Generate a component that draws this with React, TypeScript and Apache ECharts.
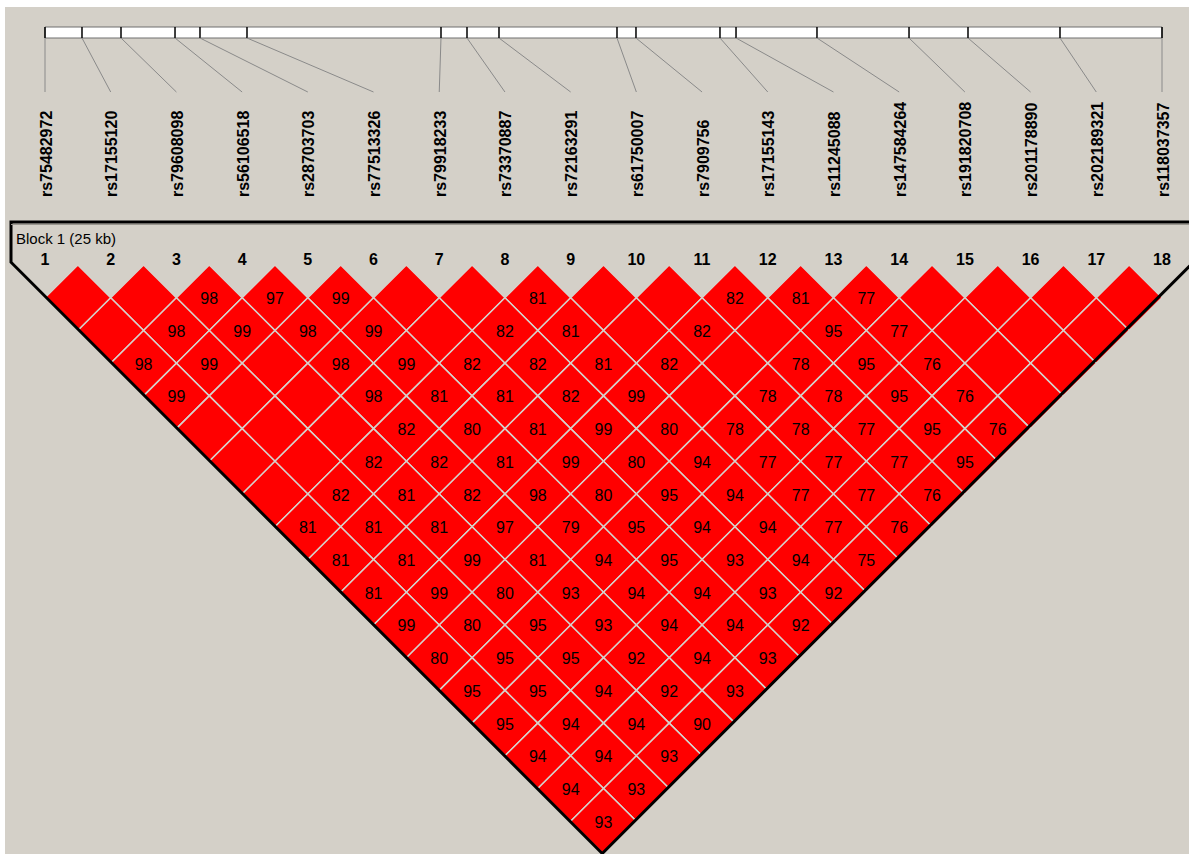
import React, { useEffect, useRef } from "react";
import * as echarts from "echarts";

// ---- Data ----
const markerNames = [
  "rs75482972", "rs17155120", "rs79608098", "rs56106518", "rs28703703", "rs77513326",
  "rs79918233", "rs73370887", "rs72163291", "rs61750007", "rs7909756", "rs17155143",
  "rs11245088", "rs147584264", "rs191820708", "rs201178890", "rs202189321", "rs118037357",
];
// physical positions (kb from the first SNP)
const positionsKb = [
  0, 0.828, 1.701, 2.91, 3.469, 4.521, 8.863, 9.445, 10.161,
  12.802, 13.227, 15.107, 15.466, 17.278, 19.338, 20.658, 22.717, 25.0,
];
const blockLabel = "Block 1 (25 kb)";
const blockLengthKb = 25;

// D' (x100) by marker distance; 100 = complete LD (no number shown)
const dist1 = [100, 100, 98, 97, 99, 100, 100, 81, 100, 100, 82, 81, 77, 100, 100, 100, 100];
const dist2 = [100, 98, 99, 98, 99, 100, 82, 81, 100, 82, 100, 95, 77, 100, 100, 100];
const dist3 = [98, 99, 100, 98, 99, 82, 82, 81, 82, 100, 78, 95, 76, 100, 100];
const dist4 = [99, 100, 100, 98, 81, 81, 82, 99, 100, 78, 78, 95, 76, 100];
const dist5 = [100, 100, 100, 82, 80, 81, 99, 80, 78, 78, 77, 95, 76];
const dist6 = [100, 100, 82, 82, 81, 99, 80, 94, 77, 77, 77, 95];
const dist7 = [100, 82, 81, 82, 98, 80, 95, 94, 77, 77, 76];
const dist8 = [81, 81, 81, 97, 79, 95, 94, 94, 77, 76];
const dist9 = [81, 81, 99, 81, 94, 95, 93, 94, 75];
const dist10 = [81, 99, 80, 93, 94, 94, 93, 92];
const dist11 = [99, 80, 95, 93, 94, 94, 92];
const dist12 = [80, 95, 95, 92, 94, 93];
const dist13 = [95, 95, 94, 92, 93];
const dist14 = [95, 94, 94, 90];
const dist15 = [94, 94, 93];
const dist16 = [94, 93];
const dist17 = [93];
const rowsByDistance = [
  dist1, dist2, dist3, dist4, dist5, dist6, dist7, dist8, dist9,
  dist10, dist11, dist12, dist13, dist14, dist15, dist16, dist17,
];

const BG = "#D4D0C8";
const FONT = '"Liberation Sans", Arial, sans-serif';

export default function App() {
  const ref = useRef<HTMLDivElement>(null);

  useEffect(() => {
    if (!ref.current) return;
    const chart = echarts.init(ref.current, null, { renderer: "svg" });
    const n = markerNames.length;

    const ldData: number[][] = [];
    rowsByDistance.forEach((row, k) => {
      const d = k + 1;
      row.forEach((v, idx) => {
        const i = idx + 1;
        ldData.push([i, i + d, v]);
      });
    });

    const snpData = positionsKb.map((p, idx) => [p, idx]);

    const option: any = {
      animation: false,
      backgroundColor: BG,
      graphic: [
        { type: "rect", z: 100, shape: { x: 0, y: 0, width: 1189, height: 7 }, style: { fill: "#ffffff" } },
        { type: "rect", z: 100, shape: { x: 0, y: 0, width: 5, height: 854 }, style: { fill: "#ffffff" } },
      ],
      grid: [
        { left: 45, top: 265, width: 1117, height: 18 * 32.85 },
        { left: 45, top: 27, width: 1117, height: 11 },
      ],
      xAxis: [
        {
          gridIndex: 0,
          type: "value",
          position: "top",
          min: 1,
          max: 18,
          interval: 1,
          axisLine: { show: false },
          axisTick: { show: false },
          splitLine: { show: false },
          axisLabel: {
            show: true,
            margin: 6,
            verticalAlign: "middle",
            color: "#000",
            fontWeight: "bold",
            fontSize: 16,
            fontFamily: FONT,
            showMinLabel: true,
            showMaxLabel: true,
          },
        },
        {
          gridIndex: 1,
          type: "value",
          min: 0,
          max: blockLengthKb,
          show: false,
        },
      ],
      yAxis: [
        { gridIndex: 0, type: "value", min: 0, max: 18, inverse: true, show: false },
        { gridIndex: 1, type: "value", min: 0, max: 1, inverse: true, show: false },
      ],
      series: [
        {
          type: "custom",
          name: "ld",
          xAxisIndex: 0,
          yAxisIndex: 0,
          silent: true,
          data: ldData,
          renderItem: (params: any, api: any) => {
            const i = api.value(0);
            const j = api.value(1);
            const v = api.value(2);
            const cx = (i + j) / 2;
            const d = j - i;
            const l = api.coord([cx - 0.5, d]);
            const t = api.coord([cx, d - 1]);
            const r = api.coord([cx + 0.5, d]);
            const b = api.coord([cx, d + 1]);
            const c = api.coord([cx, d]);
            const children: any[] = [
              {
                type: "polygon",
                shape: { points: [l, t, r, b] },
                style: { fill: "#ff0000", stroke: "#d6d2cc", lineWidth: 1.5 },
              },
            ];
            if (v < 100) {
              children.push({
                type: "text",
                x: c[0],
                y: c[1] + 1,
                style: {
                  text: String(v),
                  fill: "#000",
                  font: `16px ${FONT}`,
                  align: "center",
                  verticalAlign: "middle",
                  textAlign: "center",
                  textVerticalAlign: "middle",
                },
              });
            }
            return { type: "group", children };
          },
        },
        {
          type: "custom",
          name: "outline",
          xAxisIndex: 0,
          yAxisIndex: 0,
          silent: true,
          data: [[1, 1]],
          renderItem: (params: any, api: any) => {
            const a = api.coord([1, 1]);
            const b = api.coord([n, 1]);
            const top0 = api.coord([1, 0]);
            const cL = a[1] - a[0] - 1.5;
            const cR = b[1] + b[0] - 4;
            const apexX = (cR - cL) / 2;
            const apexY = apexX + cL;
            const xLeft = a[0] - 34;
            const yTop = top0[1] - 43;
            const W = api.getWidth();
            return {
              type: "group",
              children: [
                {
                  type: "polyline",
                  shape: {
                    points: [
                      [W + 5, yTop],
                      [xLeft, yTop],
                      [xLeft, xLeft + cL],
                      [apexX, apexY],
                      [W + 5, -(W + 5) + cR],
                    ],
                  },
                  style: { stroke: "#000", lineWidth: 3, fill: "none" },
                },
                {
                  type: "line",
                  shape: { x1: xLeft, y1: yTop + 2.5, x2: W, y2: yTop + 2.5 },
                  style: { stroke: "#9a978f", lineWidth: 1 },
                },
                {
                  type: "text",
                  x: xLeft + 5,
                  y: yTop + 16,
                  style: {
                    text: blockLabel,
                    fill: "#000",
                    font: `15px ${FONT}`,
                    align: "left",
                    verticalAlign: "middle",
                    textAlign: "left",
                    textVerticalAlign: "middle",
                  },
                },
              ],
            };
          },
        },
        {
          type: "custom",
          name: "bar",
          xAxisIndex: 1,
          yAxisIndex: 1,
          silent: true,
          data: [[0, blockLengthKb]],
          renderItem: (params: any, api: any) => {
            const p0 = api.coord([api.value(0), 0]);
            const p1 = api.coord([api.value(1), 1]);
            return {
              type: "rect",
              shape: { x: p0[0], y: p0[1], width: p1[0] - p0[0], height: p1[1] - p0[1] },
              style: { fill: "#ffffff", stroke: "#6e6e6e", lineWidth: 1 },
            };
          },
        },
        {
          type: "custom",
          name: "snps",
          xAxisIndex: 1,
          yAxisIndex: 1,
          silent: true,
          data: snpData,
          renderItem: (params: any, api: any) => {
            const pos = api.value(0);
            const idx = api.value(1);
            const top = api.coord([pos, 0]);
            const bot = api.coord([pos, 1]);
            const mx = api.coord([(idx / (n - 1)) * blockLengthKb, 1])[0];
            return {
              type: "group",
              children: [
                {
                  type: "line",
                  shape: { x1: top[0], y1: top[1], x2: bot[0], y2: bot[1] },
                  style: { stroke: "#000", lineWidth: 1.5 },
                },
                {
                  type: "line",
                  shape: { x1: bot[0], y1: bot[1], x2: mx, y2: bot[1] + 54 },
                  style: { stroke: "#8a8a8a", lineWidth: 1 },
                },
                {
                  type: "text",
                  x: mx + 1,
                  y: bot[1] + 159,
                  rotation: Math.PI / 2,
                  style: {
                    text: markerNames[idx],
                    fill: "#000",
                    font: `bold 16px ${FONT}`,
                    align: "left",
                    verticalAlign: "middle",
                    textAlign: "left",
                    textVerticalAlign: "middle",
                  },
                },
              ],
            };
          },
        },
      ],
    };

    chart.setOption(option);
    return () => chart.dispose();
  }, []);

  return (
    <div
      ref={ref}
      style={{ position: "fixed", left: 0, top: 0, width: 1189, height: 854 }}
    />
  );
}
